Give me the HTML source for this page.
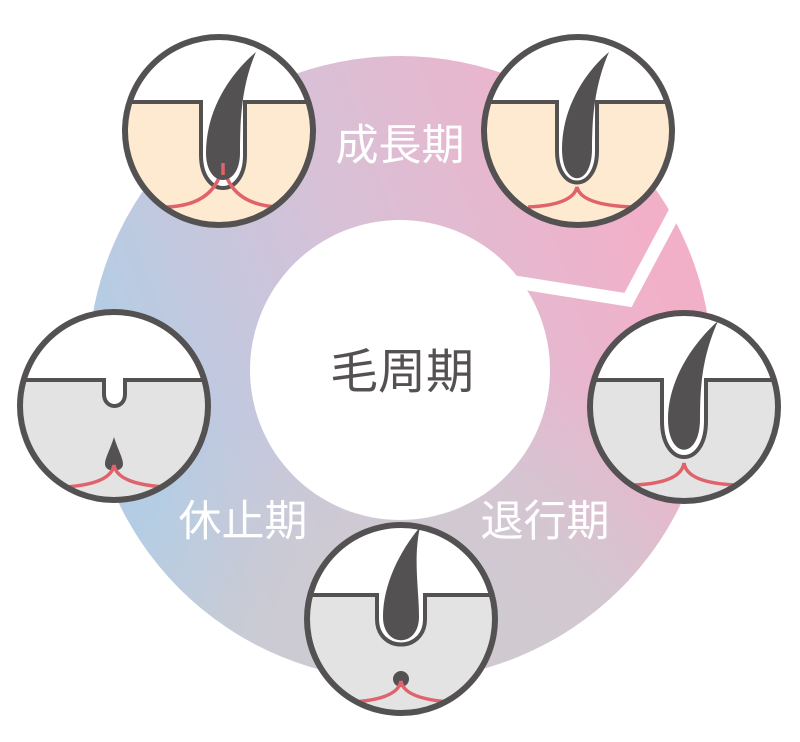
<!DOCTYPE html>
<html><head><meta charset="utf-8"><style>
html,body{margin:0;padding:0;background:#fff;}
svg{display:block;}
text{font-family:"Liberation Sans","Noto Sans CJK JP",sans-serif;}
</style></head><body>
<svg width="800" height="742" viewBox="0 0 800 742" xmlns="http://www.w3.org/2000/svg">
<defs>
<linearGradient id="g1" x1="620" y1="150" x2="100" y2="330" gradientUnits="userSpaceOnUse">
<stop offset="0" stop-color="#f2b0c8"/><stop offset="0.5" stop-color="#d9c0d6"/><stop offset="1" stop-color="#b4cde4"/>
</linearGradient>
<radialGradient id="g2" cx="440" cy="720" r="360" gradientUnits="userSpaceOnUse">
<stop offset="0" stop-color="#cfcbd0" stop-opacity="1"/><stop offset="0.55" stop-color="#cfcbd0" stop-opacity="0.8"/><stop offset="1" stop-color="#cfcbd0" stop-opacity="0"/>
</radialGradient>
<clipPath id="cc"><circle cx="0" cy="0" r="94"/></clipPath>
</defs>
<circle cx="400" cy="368" r="312" fill="url(#g1)"/>
<circle cx="400" cy="368" r="312" fill="url(#g2)"/>
<circle cx="400" cy="370" r="150" fill="#fff"/>
<polyline points="515,282 628,300 700,165" fill="none" stroke="#fff" stroke-width="13"/>

<text x="400" y="160" font-size="43" fill="#fff" text-anchor="middle">成長期</text>
<text x="545" y="536" font-size="43" fill="#fff" text-anchor="middle">退行期</text>
<text x="243" y="536" font-size="43" fill="#fff" text-anchor="middle">休止期</text>
<text x="402" y="388" font-size="48" fill="#555152" text-anchor="middle">毛周期</text>

<!-- TL -->
<g transform="translate(219,131)">
<g clip-path="url(#cc)">
<rect x="-100" y="-100" width="200" height="200" fill="#fff"/>
<path d="M-100,-29 H-18 V24 C-18,68 26,68 26,24 V-29 H100 V100 H-100 Z" fill="#fdead0" stroke="#545152" stroke-width="4"/>
<path d="M-52,76 Q-2,74 4,32 Q10,74 60,76" fill="none" stroke="#e0636b" stroke-width="3.5"/>
<path d="M37,-79 C12,-58 -13,-22 -13,22 C-13,58 21,58 21,22 C21,-8 22,-45 37,-79 Z" fill="#545152"/>
<path d="M4,32 V44" stroke="#e0636b" stroke-width="3.5"/>
</g>
<circle r="94" fill="none" stroke="#545152" stroke-width="6"/>
</g>
<!-- TR -->
<g transform="translate(578,131)">
<g clip-path="url(#cc)">
<rect x="-100" y="-100" width="200" height="200" fill="#fff"/>
<path d="M-100,-29 H-21 V20 C-21,62 19,62 19,20 V-29 H100 V100 H-100 Z" fill="#fdead0" stroke="#545152" stroke-width="4"/>
<path d="M-50,76 Q-5,74 -1,56 Q3,74 54,76" fill="none" stroke="#e0636b" stroke-width="3.5"/>
<path d="M31,-79 C6,-58 -16,-22 -16,18 C-16,57 14,57 14,18 C14,-10 16,-45 31,-79 Z" fill="#545152"/>
</g>
<circle r="94" fill="none" stroke="#545152" stroke-width="6"/>
</g>
<!-- Right -->
<g transform="translate(684,407)">
<g clip-path="url(#cc)">
<rect x="-100" y="-100" width="200" height="200" fill="#fff"/>
<path d="M-100,-27 H-22 V14 C-22,62 22,62 22,14 V-27 H100 V100 H-100 Z" fill="#e3e3e3" stroke="#545152" stroke-width="4"/>
<path d="M-50,78 Q-3,76 0,56 Q3,76 52,78" fill="none" stroke="#e0636b" stroke-width="3.5"/>
<path d="M34,-86 C7,-62 -16,-25 -16,12 C-16,53 16,53 16,12 C16,-20 18,-50 34,-86 Z" fill="#545152"/>
</g>
<circle r="94" fill="none" stroke="#545152" stroke-width="6"/>
</g>
<!-- Bottom -->
<g transform="translate(401,619)">
<g clip-path="url(#cc)">
<rect x="-100" y="-100" width="200" height="200" fill="#fff"/>
<path d="M-100,-24 H-24 V0 C-24,34 24,34 24,0 V-24 H100 V100 H-100 Z" fill="#e3e3e3" stroke="#545152" stroke-width="4"/>
<path d="M19,-92 C-1,-68 -18,-35 -18,-2 C-18,29 18,29 18,-2 C18,-30 12,-60 19,-92 Z" fill="#545152"/>
<circle cx="0" cy="60" r="8" fill="#545152"/>
<path d="M-48,83 Q-3,80 0,62 Q3,80 50,83" fill="none" stroke="#e0636b" stroke-width="3.5"/>
</g>
<circle r="94" fill="none" stroke="#545152" stroke-width="6"/>
</g>
<!-- Left -->
<g transform="translate(114,406)">
<g clip-path="url(#cc)">
<rect x="-100" y="-100" width="200" height="200" fill="#fff"/>
<path d="M-100,-26 H-10 V-12 C-10,4 11,4 11,-12 V-26 H100 V100 H-100 Z" fill="#e3e3e3" stroke="#545152" stroke-width="4"/>
<path d="M0,31 C-4,44 -9,52 -9,58 C-9,67 9,67 9,58 C9,52 4,44 0,31 Z" fill="#545152"/>
<path d="M-49,81 Q-3,78 0,59 Q3,78 51,81" fill="none" stroke="#e0636b" stroke-width="3.5"/>
</g>
<circle r="94" fill="none" stroke="#545152" stroke-width="6"/>
</g>
</svg>
</body></html>
